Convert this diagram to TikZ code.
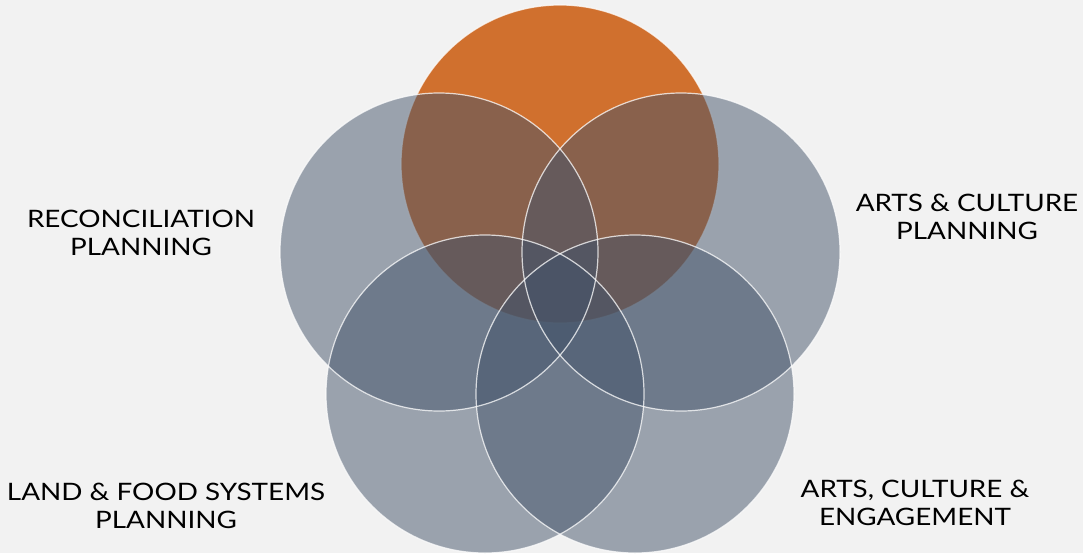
\documentclass[tikz,border=0pt]{standalone}
\usepackage{fontspec}
\setmainfont{Lato}[FakeStretch=1.16]
\definecolor{bgcol}{HTML}{F2F2F2}
\definecolor{setorange}{RGB}{208,112,46}
\definecolor{setgrey}{HTML}{44546A}
\begin{document}
\begin{tikzpicture}[x=1pt,y=-1pt,
    topset/.style={fill=setorange},
    greyset/.style={fill=setgrey, fill opacity=0.5},
    rim/.style={draw=white, draw opacity=0.75, line width=1.2pt},
    settext/.style={align=center, text=black, font=\fontsize{24}{28}\selectfont}]

    % page background
    \fill[bgcol] (0,0) rectangle (1083,553);

    % centres of the five sets
    \coordinate (top) at (560,164);
    \coordinate (left) at (439,252);
    \coordinate (right) at (681,252);
    \coordinate (botleft) at (485,394);
    \coordinate (botright) at (635,394);

    % top set sits underneath, solid
    \fill[topset] (top) circle (159);
    \draw[rim] (top) circle (159);

    % see-through grey sets
    \foreach \c in {right,botright,botleft,left}
        \fill[greyset] (\c) circle (159);

    % white rims on top
    \foreach \c in {right,botright,botleft,left}
        \draw[rim] (\c) circle (159);

    % labels
    \node[settext] (recon) at (141,233) {RECONCILIATION\\PLANNING};
    \node[settext] (artsplan) at (967,217) {ARTS \& CULTURE\\PLANNING};
    \node[settext] (landfood) at (166,506) {LAND \& FOOD SYSTEMS\\PLANNING};
    \node[settext] (artseng) at (915,503) {ARTS, CULTURE \&\\ENGAGEMENT};

\end{tikzpicture}
\end{document}
